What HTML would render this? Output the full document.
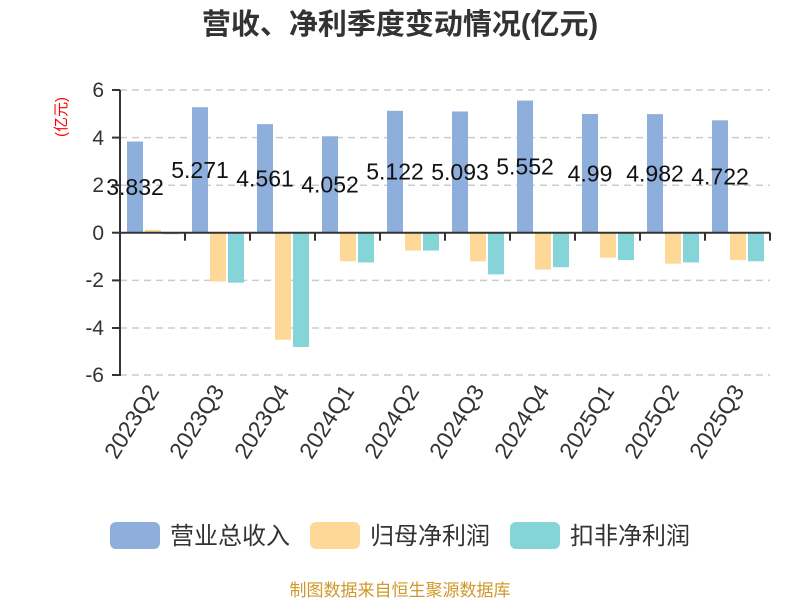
<!DOCTYPE html>
<html><head><meta charset="utf-8"><style>body{margin:0;background:#fff}svg{display:block}</style></head><body>
<svg width="800" height="600" xmlns="http://www.w3.org/2000/svg" font-family="Liberation Sans, Noto Sans CJK SC, sans-serif">
<text x="400" y="34" text-anchor="middle" font-size="29" font-weight="bold" fill="#333">营收、净利季度变动情况(亿元)</text>
<text transform="translate(66,117) rotate(-90)" text-anchor="middle" font-size="15" fill="#f00">(亿元)</text>
<g stroke="#ccc" stroke-width="1.5" stroke-dasharray="7,5">
<line x1="120" x2="770" y1="90" y2="90"/><line x1="120" x2="770" y1="137.6" y2="137.6"/><line x1="120" x2="770" y1="185.2" y2="185.2"/><line x1="120" x2="770" y1="280.4" y2="280.4"/><line x1="120" x2="770" y1="328" y2="328"/><line x1="120" x2="770" y1="375" y2="375"/>
</g>
<g font-size="21" fill="#333" text-anchor="end">
<text x="104" y="97">6</text><text x="104" y="145">4</text><text x="104" y="192">2</text><text x="104" y="240">0</text><text x="104" y="287">-2</text><text x="104" y="335">-4</text><text x="104" y="382">-6</text>
</g>
<g id="bars"></g>
<line x1="120" x2="120" y1="90" y2="376" stroke="#333" stroke-width="2"/>
<line x1="112" x2="120" y1="90" y2="90" stroke="#333" stroke-width="2"/>
<line x1="112" x2="120" y1="137.6" y2="137.6" stroke="#333" stroke-width="2"/>
<line x1="112" x2="120" y1="185.2" y2="185.2" stroke="#333" stroke-width="2"/>
<line x1="112" x2="120" y1="232.7" y2="232.7" stroke="#333" stroke-width="2"/>
<line x1="112" x2="120" y1="280.4" y2="280.4" stroke="#333" stroke-width="2"/>
<line x1="112" x2="120" y1="328" y2="328" stroke="#333" stroke-width="2"/>
<line x1="112" x2="120" y1="375" y2="375" stroke="#333" stroke-width="2"/>
<g font-size="24" fill="#333">
<rect x="110" y="522" width="50" height="27" rx="6" fill="#8eaedb"/><text x="170" y="544">营业总收入</text>
<rect x="310" y="522" width="50" height="27" rx="6" fill="#fed897"/><text x="370" y="544">归母净利润</text>
<rect x="510" y="522" width="50" height="27" rx="6" fill="#85d4d8"/><text x="570" y="544">扣非净利润</text>
</g>
<text x="400" y="596" text-anchor="middle" font-size="17" fill="#d0982a">制图数据来自恒生聚源数据库</text>
<script>
const rev=[3.832,5.271,4.561,4.052,5.122,5.093,5.552,4.99,4.982,4.722];
const np=[0.12,-2.05,-4.5,-1.2,-0.75,-1.2,-1.55,-1.05,-1.3,-1.15];
const kf=[-0.05,-2.1,-4.8,-1.25,-0.75,-1.75,-1.45,-1.15,-1.25,-1.2];
const lab=["2023Q2","2023Q3","2023Q4","2024Q1","2024Q2","2024Q3","2024Q4","2025Q1","2025Q2","2025Q3"];
const y0=232.7,k=23.8,ns="http://www.w3.org/2000/svg",g=document.getElementById('bars');
function el(t,a,txt){const e=document.createElementNS(ns,t);for(const n in a)e.setAttribute(n,a[n]);if(txt)e.textContent=txt;g.appendChild(e);return e;}
function bar(x,v,c){const h=Math.abs(v)*k;el('rect',{x:x,y:v>=0?y0-h:y0,width:16,height:Math.max(h,1.5),fill:c});}
for(let i=0;i<10;i++){const x=120+i*65;
bar(x+7,rev[i],'#8eaedb');bar(x+25,np[i],'#fed897');bar(x+43,kf[i],'#85d4d8');
el('line',{x1:x+65,x2:x+65,y1:y0,y2:y0+8,stroke:'#333','stroke-width':2});
el('text',{transform:`translate(${x+40},${391}) rotate(-58)`,'text-anchor':'end','font-size':23,fill:'#333'},lab[i]);
}
el('line',{x1:120,x2:770,y1:y0,y2:y0,stroke:'#333','stroke-width':2});
for(let i=0;i<10;i++){const x=120+i*65+15;el('text',{x:x,y:y0-rev[i]*k/2+8,'text-anchor':'middle','font-size':23,fill:'#111'},String(rev[i]));}
</script>
</svg>
</body></html>
